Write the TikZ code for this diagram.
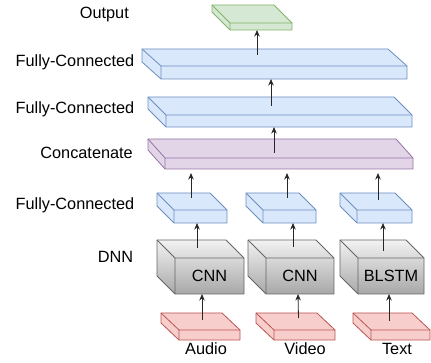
\documentclass[tikz,border=0pt]{standalone}
\usepackage{fontspec}
\setmainfont{Liberation Sans}
\usetikzlibrary{arrows.meta}
\definecolor{bluefill}{HTML}{DAE8FC}
\definecolor{bluedraw}{HTML}{6C8EBF}
\definecolor{greenfill}{HTML}{D5E8D4}
\definecolor{greendraw}{HTML}{82B366}
\definecolor{purplefill}{HTML}{E1D5E7}
\definecolor{purpledraw}{HTML}{9673A6}
\definecolor{redfill}{HTML}{F8CECC}
\definecolor{reddraw}{HTML}{B85450}
\definecolor{graytop}{HTML}{F2F2F2}
\definecolor{graybot}{HTML}{A8A8A8}
\definecolor{graydraw}{HTML}{666666}
\newcommand\lblfont{\fontsize{16.3}{19}\selectfont}
\tikzset{
  cblue/.style={fill=bluefill, draw=bluedraw},
  cblue line/.style={draw=bluedraw},
  cgreen/.style={fill=greenfill, draw=greendraw},
  cgreen line/.style={draw=greendraw},
  cpurple/.style={fill=purplefill, draw=purpledraw},
  cpurple line/.style={draw=purpledraw},
  cred/.style={fill=redfill, draw=reddraw},
  cred line/.style={draw=reddraw},
  cgray/.style={top color=graytop, bottom color=graybot, draw=graydraw},
  cgray line/.style={draw=graydraw},
  cubeface/.style={inner sep=0pt, outer sep=0pt, font=\lblfont},
  lbl/.style={font=\lblfont, anchor=base east, inner sep=0pt},
  blbl/.style={font=\lblfont, anchor=base, inner sep=0pt},
  arr/.style={-{Stealth[length=6.5pt,width=5.5pt]}, draw=black!85, line width=0.8pt},
}
\newcommand\cubebox[9]{%
  \pgfmathsetmacro\cbxa{#2+#6}%
  \pgfmathsetmacro\cbya{#3+#7}%
  \pgfmathsetmacro\cbxb{#4-#6}%
  \pgfmathsetmacro\cbyb{#5-#7}%
  \pgfmathsetmacro\cbw{#4-\cbxa}%
  \pgfmathsetmacro\cbh{#5-\cbya}%
  \path[#8, line width=0.8pt, line join=round] (#2,#3) -- (\cbxb,#3) -- (#4,\cbya) -- (#4,#5) -- (\cbxa,#5) -- (#2,\cbyb) -- cycle;
  \draw[#8 line, line width=0.8pt, line join=round] (#2,#3) -- (\cbxa,\cbya) -- (#4,\cbya) (\cbxa,\cbya) -- (\cbxa,#5);
  \node[cubeface, minimum width=\cbw pt, minimum height=\cbh pt, anchor=north west] (#1) at (\cbxa,\cbya) {#9};
}
\begin{document}
\begin{tikzpicture}[x=1pt,y=-1pt]
\useasboundingbox (0,0) rectangle (431,363);
% cubes: name, x1, y1, x2, y2, dx, dy, style, text
\cubebox{out}{212}{5}{292}{30}{18}{18}{cgreen}{}
\cubebox{fcA}{142}{49}{407}{79}{19}{17}{cblue}{}
\cubebox{fcB}{148}{97}{412}{127}{18}{18}{cblue}{}
\cubebox{cat}{148}{139}{413}{169}{17}{19}{cpurple}{}
\cubebox{fa}{157}{193}{227}{223}{17}{17}{cblue}{}
\cubebox{fv}{246}{193}{316}{223}{17}{17}{cblue}{}
\cubebox{ft}{340}{193}{412}{223}{17}{17}{cblue}{}
\cubebox{ga}{157}{240}{244}{294}{18}{18}{cgray}{CNN}
\cubebox{gv}{248}{240}{334}{294}{18}{18}{cgray}{CNN}
\cubebox{gt}{340}{240}{424}{294}{18}{18}{cgray}{BLSTM}
\cubebox{pa}{161}{313}{240}{340}{18}{17}{cred}{}
\cubebox{pv}{256}{313}{335}{340}{18}{17}{cred}{}
\cubebox{pt}{353}{313}{430}{340}{18}{17}{cred}{}
% arrows
\draw[arr] ([xshift=-7.5pt,yshift=10pt]pa.north) -- ([xshift=-7.5pt]ga.south);
\draw[arr] ([xshift=-6pt,yshift=12pt]pv.north) -- ([xshift=-2pt]gv.south);
\draw[arr] ([xshift=-11.5pt,yshift=9pt]pt.north) -- ([xshift=-2pt]gt.south);
\draw[arr] ([xshift=-12.5pt,yshift=10pt]ga.north) -- ([xshift=-3.5pt]fa.south);
\draw[arr] ([xshift=-7pt,yshift=11pt]gv.north) -- ([xshift=3.5pt]fv.south);
\draw[arr] ([xshift=-8pt,yshift=7pt]gt.north) -- ([xshift=-1.5pt]ft.south);
\draw[arr] ([xshift=-9.5pt,yshift=12pt]fa.north) -- ([xshift=-98pt,yshift=-4pt]cat.south);
\draw[arr] ([xshift=-2.5pt,yshift=12pt]fv.north) -- ([xshift=-2pt,yshift=-4pt]cat.south);
\draw[arr] ([xshift=-6.5pt,yshift=10pt]ft.north) -- ([xshift=89pt,yshift=-4pt]cat.south);
\draw[arr] ([xshift=-15pt,yshift=5pt]cat.north) -- ([xshift=-15pt]fcB.south);
\draw[arr] ([xshift=-18pt,yshift=9pt]fcB.north) -- ([xshift=-13pt]fcA.south);
\draw[arr] ([xshift=-27pt,yshift=11pt]fcA.north) -- ([xshift=-4pt]out.south);
% left labels
\node[lbl] (lOut) at (129,19) {Output};
\node[lbl] (lFcA) at (134.5,67) {Fully-Connected};
\node[lbl] (lFcB) at (134.5,114) {Fully-Connected};
\node[lbl] (lCat) at (133,159) {Concatenate};
\node[lbl] (lFc) at (134.5,210) {Fully-Connected};
\node[lbl] (lDnn) at (133.3,263) {DNN};
% bottom labels
\node[blbl] (lAudio) at (206,354) {Audio};
\node[blbl] (lVideo) at (305,354) {Video};
\node[blbl] (lText) at (397,354) {Text};
\end{tikzpicture}
\end{document}
